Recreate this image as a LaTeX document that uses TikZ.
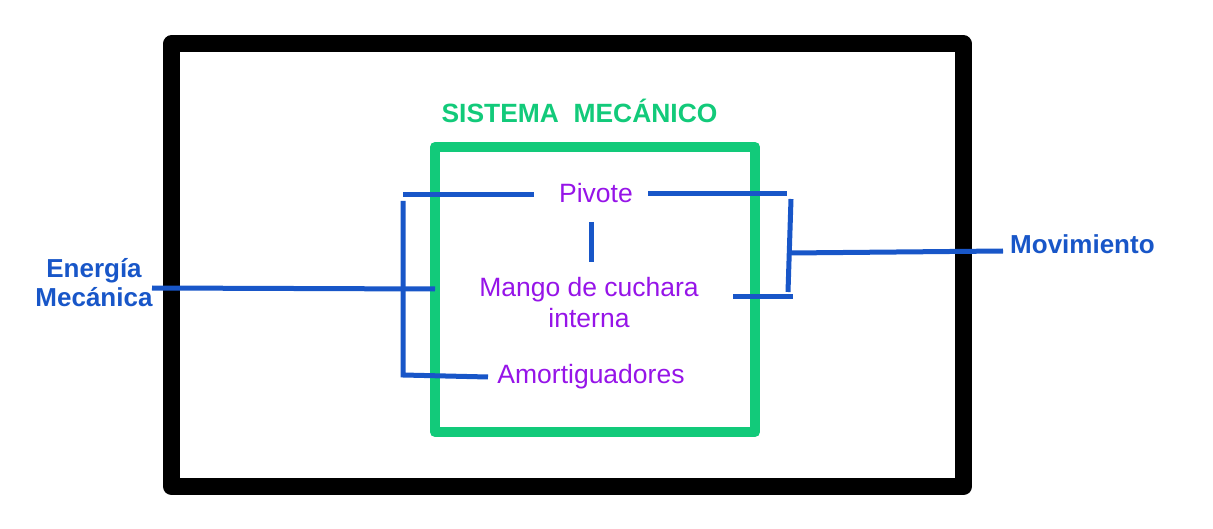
\documentclass[tikz,border=0pt]{standalone}
\usepackage{fontspec}
\setmainfont{Liberation Sans}
\definecolor{blu}{RGB}{24,86,200}
\definecolor{grn}{RGB}{18,202,122}
\definecolor{prp}{RGB}{150,20,232}
\begin{document}
\begin{tikzpicture}[x=1pt,y=-1pt,
  frame/.style={draw=black,line width=17pt,line join=round},
  sysbox/.style={draw=grn,line width=10pt,line join=round},
  wire/.style={draw=blu,line width=5pt},
  part/.style={text=prp,font=\fontsize{26.5}{31}\selectfont,anchor=base,inner sep=0pt,align=center},
  ext/.style={text=blu,font=\bfseries\fontsize{26}{29}\selectfont,anchor=base,inner sep=0pt,align=center},
  title/.style={text=grn,font=\bfseries\fontsize{26.4}{30}\selectfont,anchor=base,inner sep=0pt}]
\useasboundingbox (0,0) rectangle (1213,529);
\draw[frame] (171.5,44) rectangle (963.5,486.5);
\draw[sysbox] (435,147) rectangle (755,432);
\node[title] (tt) at (579.5,123) {SISTEMA\ \ MECÁNICO};
\node[part] (pv) at (596,203) {Pivote};
\node[part] (mg) at (589,297) {Mango de cuchara};
\node[part] (in) at (589,328) {interna};
\node[part] (am) at (591,383) {Amortiguadores};
\node[ext] (en) at (94,278) {Energía};
\node[ext] (me) at (94,307) {Mecánica};
\node[ext,anchor=base west] (mv) at (1010,254) {Movimiento};
% coordinates
\coordinate (a1) at (403,195);
\coordinate (a2) at (534,195);
\coordinate (b1) at (648,194);
\coordinate (b2) at (787,194);
\coordinate (c1) at (403,201);
\coordinate (c2) at (403,375);
\coordinate (d2) at (488,377);
\coordinate (e1) at (152,288);
\coordinate (e2) at (435,289);
\coordinate (f1) at (591,222);
\coordinate (f2) at (591,262);
\coordinate (g1) at (791,199);
\coordinate (g2) at (788,292);
\coordinate (h1) at (790,253);
\coordinate (h2) at (1003,251);
\coordinate (k1) at (733,297);
\coordinate (k2) at (793,297);
\draw[wire] (a1) -- (a2);
\draw[wire] (b1) -- (b2);
\draw[wire] (c1) -- (c2) -- (d2);
\draw[wire] (e1) -- (e2);
\draw[wire] (f1) -- (f2);
\draw[wire] (g1) -- (g2);
\draw[wire] (h1) -- (h2);
\draw[wire] (k1) -- (k2);
\end{tikzpicture}
\end{document}
